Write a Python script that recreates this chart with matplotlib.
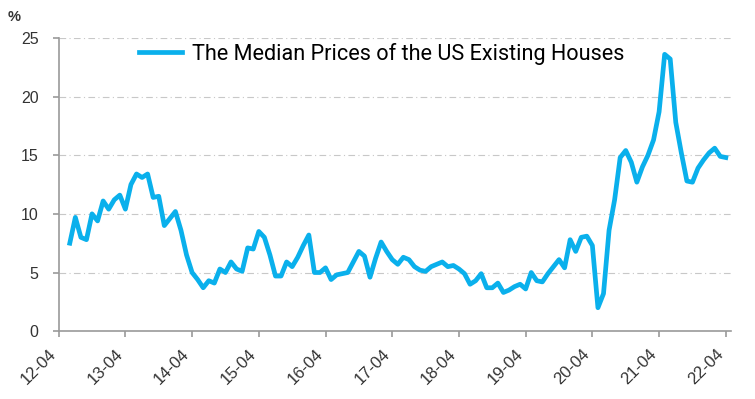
import numpy as np
import matplotlib
matplotlib.use("Agg")
import matplotlib.pyplot as plt
from matplotlib.transforms import ScaledTranslation

# monthly YoY change, 2012-06 .. 2022-04
start_month = 2  # months after 2012-04
values = [
    7.5, 9.7, 8.0, 7.8, 10.0, 9.4, 11.1, 10.4, 11.2, 11.6,   # 12-06 .. 13-03
    10.4, 12.5, 13.4, 13.1, 13.4, 11.4, 11.5, 9.0, 9.6, 10.2, 8.6, 6.5,  # 13-04 .. 14-03
    5.0, 4.4, 3.7, 4.3, 4.1, 5.3, 5.0, 5.9, 5.3, 5.1, 7.1, 7.0,  # 14-04 .. 15-03
    8.5, 8.0, 6.5, 4.7, 4.7, 5.9, 5.5, 6.3, 7.3, 8.2, 5.0, 5.0,  # 15-04 .. 16-03
    5.4, 4.4, 4.8, 4.9, 5.0, 5.9, 6.8, 6.4, 4.6, 6.2, 7.6, 6.8,  # 16-04 .. 17-03
    6.1, 5.7, 6.3, 6.1, 5.5, 5.2, 5.1, 5.5, 5.7, 5.9, 5.5, 5.6,  # 17-04 .. 18-03
    5.3, 4.9, 4.0, 4.3, 4.9, 3.7, 3.7, 4.1, 3.3, 3.5, 3.8, 4.0,  # 18-04 .. 19-03
    3.6, 5.0, 4.3, 4.2, 4.9, 5.5, 6.1, 5.4, 7.8, 6.8, 8.0, 8.1,  # 19-04 .. 20-03
    7.3, 2.0, 3.2, 8.6, 11.2, 14.8, 15.4, 14.4, 12.7, 14.0, 15.0, 16.3,  # 20-04 .. 21-03
    18.7, 23.6, 23.2, 17.8, 15.2, 12.8, 12.7, 13.9, 14.6, 15.2, 15.6, 14.9,  # 21-04 .. 22-03
    14.8,  # 22-04
]
tick_labels = ["12-04", "13-04", "14-04", "15-04", "16-04", "17-04",
               "18-04", "19-04", "20-04", "21-04", "22-04"]
series_name = "The Median Prices of the US Existing Houses"

x = np.arange(len(values)) + start_month

fig = plt.figure(figsize=(7.55, 3.99), dpi=100)
ax = fig.add_axes([0.0777, 0.170, 0.891, 0.735])

ax.plot(x, values, color="#0AB0EC", linewidth=3.4, solid_joinstyle="round",
        label=series_name)

ax.set_xlim(0, 121)
ax.set_ylim(0, 25)
ax.set_yticks([0, 5, 10, 15, 20, 25])
ax.set_xticks(np.arange(0, 121, 12))
ax.set_xticklabels(tick_labels, rotation=45, ha="right", va="center",
                   rotation_mode="anchor")

ax.grid(axis="y", color="#c8c8c8", linestyle=(0, (6, 3, 1, 3)), linewidth=0.8)
ax.set_axisbelow(True)

for side in ["top", "right"]:
    ax.spines[side].set_visible(False)
for side in ["left", "bottom"]:
    ax.spines[side].set_color("#9a9a9a")
    ax.spines[side].set_linewidth(1.2)

ax.tick_params(axis="both", colors="#9a9a9a", width=1.2, length=4.5,
               labelcolor="#333333")
ax.tick_params(axis="y", pad=10, labelsize=11.5)
ax.tick_params(axis="x", pad=10, labelsize=12)
# nudge rotated date labels a little to the left
shift = ScaledTranslation(-5 / 100, 0, fig.dpi_scale_trans)
for lab in ax.get_xticklabels():
    lab.set_transform(lab.get_transform() + shift)
for lab in ax.get_xticklabels() + ax.get_yticklabels():
    lab.set_family("Liberation Sans")

fig.text(0.010, 0.948, "%", fontsize=10.5, color="#333333",
         family="Liberation Sans", weight="bold")

leg = ax.legend(loc="upper left", bbox_to_anchor=(0.091, 1.05), frameon=False,
                handlelength=1.95, handletextpad=0.46,
                prop={"family": "Roboto", "size": 15.6})

fig.savefig("out.png", dpi=100)
